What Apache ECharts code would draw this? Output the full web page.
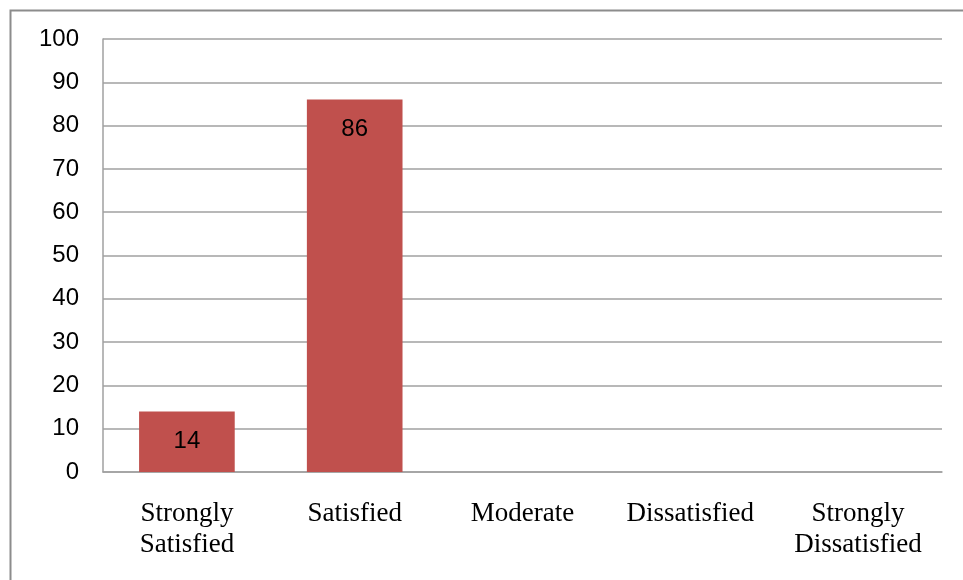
<!DOCTYPE html>
<html>
<head>
<meta charset="utf-8">
<script src="https://cdn.jsdelivr.net/npm/echarts@6/dist/echarts.min.js"></script>
<style>html,body{margin:0;padding:0;background:#fff;}#c{width:963px;height:580px;}</style>
</head>
<body>
<div id="c"></div>
<script>
const categories = ['Strongly\nSatisfied', 'Satisfied', 'Moderate', 'Dissatisfied', 'Strongly\nDissatisfied'];
const values = [14, 86, null, null, null];
const yTicks = [0, 10, 20, 30, 40, 50, 60, 70, 80, 90, 100];

const chart = echarts.init(document.getElementById('c'), null, {renderer: 'canvas'});
chart.setOption({
  animation: false,
  backgroundColor: '#fff',
  graphic: [{
    type: 'rect', left: 8, top: 8, z: -10,
    shape: {x: 0, y: 0, width: 1000, height: 620},
    style: {fill: 'none', stroke: '#8c8c8c', lineWidth: 2}
  }],
  grid: {left: 103, right: 21, top: 39, bottom: 108, containLabel: false},
  xAxis: {
    type: 'category',
    data: categories,
    axisLine: {show: true, lineStyle: {color: '#a0a0a0', width: 1.5}},
    axisTick: {show: false},
    axisLabel: {
      margin: 26, interval: 0,
      fontFamily: '"Liberation Serif", "Times New Roman", serif',
      fontSize: 27, lineHeight: 31, color: '#000'
    }
  },
  yAxis: {
    type: 'value', min: yTicks[0], max: yTicks[yTicks.length - 1], interval: 10,
    axisLine: {show: true, lineStyle: {color: '#a0a0a0', width: 1.5}},
    axisTick: {show: false},
    splitLine: {show: true, lineStyle: {color: '#a0a0a0', width: 1.5}},
    axisLabel: {
      margin: 24, fontFamily: '"Liberation Sans", Arial, sans-serif',
      fontSize: 24, color: '#000'
    }
  },
  series: [{
    type: 'bar',
    data: values,
    barWidth: '57%',
    itemStyle: {color: '#C0504D'},
    label: {
      show: true, position: 'insideTop', distance: 18,
      fontFamily: '"Liberation Sans", Arial, sans-serif',
      fontSize: 24, color: '#000'
    }
  }]
});
</script>
</body>
</html>
